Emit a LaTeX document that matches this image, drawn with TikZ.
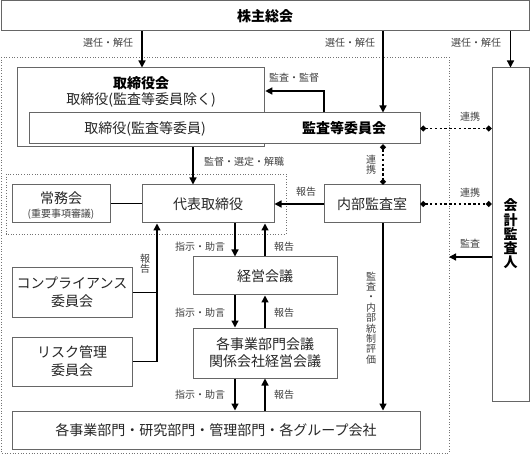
\documentclass[tikz,border=0pt]{standalone}
\usepackage{fontspec}
\setmainfont{Noto Sans CJK JP}
\usetikzlibrary{arrows.meta}
\tikzset{
  box/.style={draw=black!60, line width=1pt, fill=white, inner sep=0pt, align=center},
  big/.style={font=\fontsize{14}{16}\selectfont, text=black!85, inner sep=0pt, align=center},
  bigb/.style={font=\fontsize{14}{16}\selectfont\bfseries, text=black, inner sep=0pt, align=center},
  lab/.style={font=\fontsize{10}{11}\selectfont, text=black!75, inner sep=0pt, align=center},
  vlab/.style={font=\fontsize{10}{10.4}\selectfont, text=black!75, inner sep=0pt, align=center},
  arr/.style={line width=1.3pt, -{Triangle[length=7pt,width=7pt]}},
  plain/.style={line width=1.3pt},
  link/.style={line width=1.6pt, dash pattern=on 2.4pt off 2.4pt, {Circle[length=5.5pt]}-{Circle[length=5.5pt]}},
  region/.style={draw=black!55, line width=0.7pt, dotted}
}
\begin{document}
\begin{tikzpicture}[x=1pt,y=-1pt]
\useasboundingbox (0,0) rectangle (530,454);
% regions
\draw[region] (1,57) rectangle (449,453);
\draw[region] (6,174) rectangle (286,234);
% boxes
\node[box, minimum width=528pt, minimum height=30pt] (top) at (265,16) {};
\node[bigb] (topt) at (265,16) {株主総会};
\node[box, minimum width=247pt, minimum height=79pt] (tori) at (141.3,107.5) {};
\node[bigb] (torit) at (141,83) {取締役会};
\node[big] (torit2) at (141,100) {取締役(監査等委員除く)};
\node[box, minimum width=391pt, minimum height=31pt] (kansa) at (224.5,128.5) {};
\node[big] (kansat1) at (145,128.5) {取締役(監査等委員)};
\node[bigb] (kansat2) at (344,128.5) {監査等委員会};
\node[box, minimum width=37pt, minimum height=333pt] (kaikei) at (510.5,234.5) {};
\node[font=\fontsize{14}{14.3}\selectfont\bfseries, inner sep=0pt, align=center] (kaikeit) at (510.5,234) {会\\計\\監\\査\\人};
\node[box, minimum width=98pt, minimum height=38pt] (jomu) at (61,204) {};
\node[big] (jomut) at (61,198) {常務会};
\node[lab] (jomut2) at (61,214) {(重要事項審議)};
\node[box, big, minimum width=132pt, minimum height=38pt] (daihyo) at (208,204) {代表取締役};
\node[box, big, minimum width=96pt, minimum height=38pt] (naibu) at (372,204) {内部監査室};
\node[box, big, minimum width=144pt, minimum height=38pt] (keiei) at (265,276) {経営会議};
\node[box, big, minimum width=144pt, minimum height=50pt] (kakubu) at (265,353) {各事業部門会議\\[1pt]関係会社経営会議};
\node[box, big, minimum width=408pt, minimum height=38pt] (bottom) at (216,430) {各事業部門・研究部門・管理部門・各グループ会社};
\node[box, big, minimum width=120pt, minimum height=49pt] (comp) at (72,292.5) {コンプライアンス\\[2pt]委員会};
\node[box, big, minimum width=120pt, minimum height=49pt] (risk) at (72,361.5) {リスク管理\\[2pt]委員会};
% coordinates
\coordinate (xa) at (142,0);
\coordinate (xb) at (383,0);
\coordinate (xc) at (193,0);
\coordinate (xd) at (235,0);
\coordinate (xr) at (157,0);
\coordinate (km) at (324,91);
\coordinate (audend) at (449,257);
% connectors
\draw[arr] (xa |- top.south) -- (xa |- tori.north);
\draw[arr] (xb |- top.south) -- (xb |- kansa.north);
\draw[arr] (top.south -| kaikei.north) -- (kaikei.north);
\draw[arr] (km |- kansa.north) |- (tori.east |- km);
\draw[link] (kansa.east) -- (kaikei.west |- kansa.east);
\draw[arr] (xc |- tori.south) -- (xc |- daihyo.north);
\draw[link] (xb |- kansa.south) -- (xb |- naibu.north);
\draw[arr] (naibu.west) -- (daihyo.east);
\draw[link] (naibu.east) -- (kaikei.west |- naibu.east);
\draw[line width=1pt] (jomu.east) -- (daihyo.west);
\draw[arr] (kaikei.west |- audend) -- (audend);
\draw[arr] (xb |- naibu.south) -- (xb |- bottom.north);
\draw[arr] (xd |- daihyo.south) -- (xd |- keiei.north);
\draw[arr] (keiei.north) -- (keiei.north |- daihyo.south);
\draw[arr] (xd |- keiei.south) -- (xd |- kakubu.north);
\draw[arr] (kakubu.north) -- (keiei.south);
\draw[arr] (xd |- kakubu.south) -- (xd |- bottom.north);
\draw[arr] (kakubu.south |- bottom.north) -- (kakubu.south);
\draw[plain] (comp.east) -- (comp.east -| xr);
\draw[arr] (risk.east) -| (xr |- daihyo.south);
% labels
\node[lab] (l1) at (108,43) {選任・解任};
\node[lab] (l2) at (350,43) {選任・解任};
\node[lab] (l3) at (476,43) {選任・解任};
\node[lab] (l4) at (294,78) {監査・監督};
\node[lab] (l5) at (470,117) {連携};
\node[lab] (l6) at (244,162) {監督・選定・解職};
\node[lab] (l7) at (306,192) {報告};
\node[vlab] (l8) at (371,165) {連\\携};
\node[lab] (l9) at (470,193) {連携};
\node[lab] (l10) at (470,244) {監査};
\node[lab] (l11) at (200,247) {指示・助言};
\node[lab] (l12) at (284,247) {報告};
\node[vlab] (l13) at (145,264) {報\\告};
\node[lab] (l14) at (200,313) {指示・助言};
\node[lab] (l15) at (284,313) {報告};
\node[lab] (l16) at (200,395) {指示・助言};
\node[lab] (l17) at (284,395) {報告};
\node[vlab] (l18) at (371,318) {監\\査\\・\\内\\部\\統\\制\\評\\価};
\end{tikzpicture}
\end{document}
